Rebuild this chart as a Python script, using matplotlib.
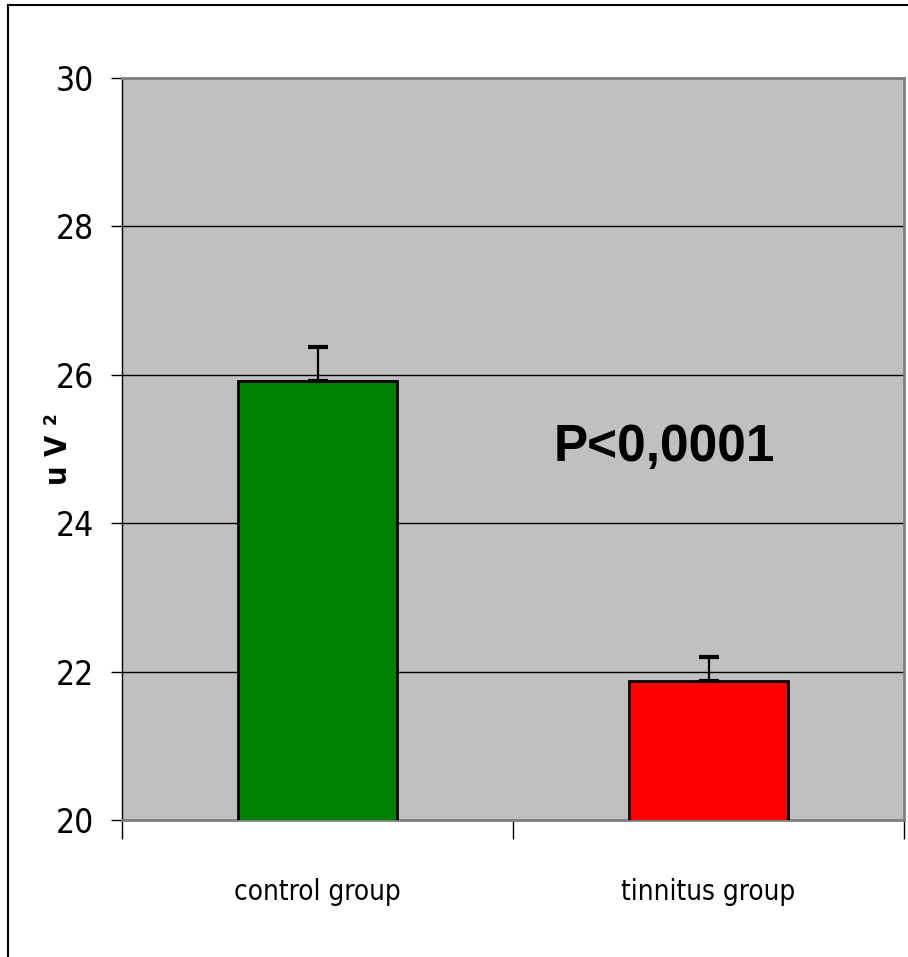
import numpy as np
import matplotlib.pyplot as plt
from matplotlib.lines import Line2D
from matplotlib import font_manager

groups = ["control group", "tinnitus group"]
means = [25.91, 21.87]
errors = [0.47, 0.33]
bar_colors = ["#008000", "#FF0000"]
yticks = [20, 22, 24, 26, 28, 30]

narrow = dict(fontfamily="DejaVu Sans", fontstretch="condensed")

# bold Arial-style face for the significance note
bold_path = font_manager.findfont(
    font_manager.FontProperties(family="Liberation Sans", weight="bold",
                                stretch="normal"))
bold_font = font_manager.FontProperties(fname=bold_path, size=37)

fig = plt.figure(figsize=(9.08, 9.57), dpi=100)
ax = fig.add_axes([122 / 908, 1 - 820 / 957, 782 / 908, 742 / 957])
ax.set_facecolor("#C0C0C0")

x = np.arange(len(groups))
ax.bar(x, means, width=0.406, color=bar_colors, edgecolor="black",
       linewidth=2, zorder=3)
ax.errorbar(x, means, yerr=[np.zeros(len(errors)), errors], fmt="none",
            ecolor="black", elinewidth=1.6, capsize=7, capthick=3, zorder=4)

ax.set_xlim(-0.5, 1.5)
ax.set_ylim(20, 30)
ax.set_yticks(yticks)
ax.set_yticklabels([str(v) for v in yticks], fontsize=24, **narrow)
ax.yaxis.grid(True, color="black", linewidth=1)
ax.set_axisbelow(True)
ax.tick_params(axis="y", direction="out", length=8, width=1, pad=12)

ax.set_xticks(x)
ax.set_xticklabels(groups, fontsize=20, **narrow)
ax.set_xticks([-0.5, 0.5, 1.5], minor=True)
ax.tick_params(axis="x", which="major", length=0, pad=42)
ax.tick_params(axis="x", which="minor", length=14, width=1)

ax.spines["left"].set_color("black")
ax.spines["left"].set_linewidth(1)
for side in ["top", "right", "bottom"]:
    ax.spines[side].set_color("#808080")
    ax.spines[side].set_linewidth(2)

ax.set_ylabel("u V \u00b2", fontweight="bold", fontsize=22, **narrow)
ax.yaxis.set_label_coords(-0.063, 0.5)

ax.text(0.694, 0.502, "P<0,0001", transform=ax.transAxes, ha="center",
        va="center", fontproperties=bold_font)

# outer frame, left and top edges only
fig.add_artist(Line2D([8 / 908, 8 / 908], [0, 1 - 5 / 957],
                      transform=fig.transFigure, color="black", linewidth=1.5))
fig.add_artist(Line2D([8 / 908, 1], [1 - 5 / 957, 1 - 5 / 957],
                      transform=fig.transFigure, color="black", linewidth=1.5))

fig.savefig("out.png", dpi=100)
